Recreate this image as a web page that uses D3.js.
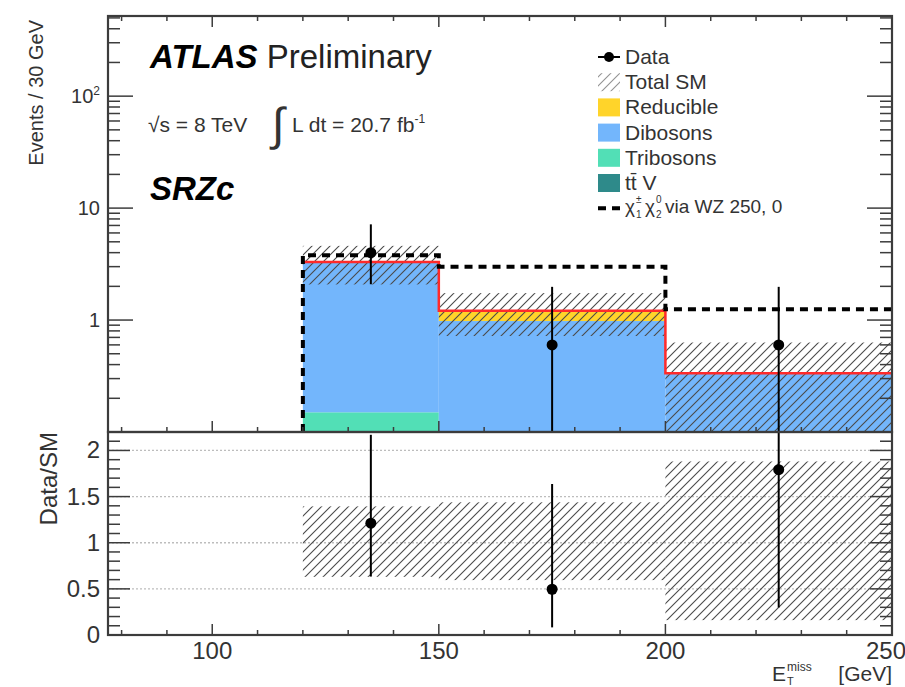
<!DOCTYPE html>
<html>
<head>
<meta charset="utf-8">
<title>SRZc MET</title>
<script src="https://cdn.jsdelivr.net/npm/d3@7"></script>
<style>
  body { margin: 0; background: #fff; }
  text { font-family: "Liberation Sans", Arial, Helvetica, sans-serif; }
</style>
</head>
<body>
<svg id="chart" width="905" height="687"></svg>
<script>
// bins in MET [GeV]
var binEdges = [[120, 150], [150, 200], [200, 250]];
var binCenters = [135, 175, 225];

// backgrounds, events / 30 GeV (stacked bottom to top)
var ttV = [0.01, 0.01, 0.005];
var tribosons = [0.14, 0.05, 0.02];
var dibosons = [3.1, 0.92, 0.31];
var reducible = [0.05, 0.23, 0.0];

// total SM uncertainty band
var bandLow = [2.08, 0.72, 0.054];
var bandHigh = [4.6, 1.74, 0.63];

// signal chi1+- chi2^0 via WZ (250, 0)
var signal = [3.8, 3.0, 1.25];

// data with poisson errors
var dataVal = [4.0, 0.6, 0.6];
var dataLow = [2.09, 0.1, 0.1];
var dataHigh = [7.16, 1.98, 1.98];

var xMajor = [100, 150, 200, 250];
var ratioMajor = [0, 0.5, 1, 1.5, 2];

var colors = { ttV: "#2e8a8a", tribosons: "#52dfb6", dibosons: "#73b6fc", reducible: "#ffd42a" };

var svg = d3.select("#chart");
var L = 108, R = 892, T = 16, M = 432, B = 635;

var x = d3.scaleLinear().domain([77, 250]).range([L, R]);
var y = d3.scaleLog().domain([0.1, 520]).range([M, T]).clamp(true);
var yr = d3.scaleLinear().domain([0, 2.2]).range([B, M]).clamp(true);

var defs = svg.append("defs");
var pat = defs.append("pattern").attr("id", "hatch")
  .attr("patternUnits", "userSpaceOnUse").attr("width", 9).attr("height", 9);
pat.append("path").attr("d", "M0,9 L9,0 M-2,2 L2,-2 M7,11 L11,7")
  .attr("stroke", "#4a4a4a").attr("stroke-width", 1.1);
defs.append("clipPath").attr("id", "clipTop").append("rect")
  .attr("x", L).attr("y", T).attr("width", R - L).attr("height", M - T);
defs.append("clipPath").attr("id", "clipBot").append("rect")
  .attr("x", L).attr("y", M).attr("width", R - L).attr("height", B - M);

// ---- upper panel ----
var gTop = svg.append("g").attr("clip-path", "url(#clipTop)");

var keys = ["ttV", "tribosons", "dibosons", "reducible"];
var table = binEdges.map(function(e, i) {
  return { i: i, ttV: ttV[i], tribosons: tribosons[i], dibosons: dibosons[i], reducible: reducible[i] };
});
var stacked = d3.stack().keys(keys)(table);
var total = table.map(function(d) { return d.ttV + d.tribosons + d.dibosons + d.reducible; });

stacked.forEach(function(layer) {
  gTop.selectAll(null).data(layer).enter().append("rect")
    .attr("x", function(d) { return x(binEdges[d.data.i][0]); })
    .attr("width", function(d) { return x(binEdges[d.data.i][1]) - x(binEdges[d.data.i][0]); })
    .attr("y", function(d) { return y(Math.max(d[1], 0.1)); })
    .attr("height", function(d) { return y(Math.max(d[0], 0.1)) - y(Math.max(d[1], 0.1)); })
    .attr("fill", colors[layer.key]);
});

// uncertainty hatch
gTop.selectAll(null).data(binEdges).enter().append("rect")
  .attr("x", function(d) { return x(d[0]); })
  .attr("width", function(d) { return x(d[1]) - x(d[0]); })
  .attr("y", function(d, i) { return y(bandHigh[i]); })
  .attr("height", function(d, i) { return y(bandLow[i]) - y(bandHigh[i]); })
  .attr("fill", "url(#hatch)");

// total SM outline (red)
function stepPath(vals, scale, closeLeft) {
  var p = [];
  binEdges.forEach(function(e, i) {
    p.push([x(e[0]), scale(vals[i])]);
    p.push([x(e[1]), scale(vals[i])]);
  });
  if (closeLeft) p.unshift([x(binEdges[0][0]), scale(0.1)]);
  return d3.line()(p);
}
gTop.append("path").attr("d", stepPath(total, y, false))
  .attr("fill", "none").attr("stroke", "#ff2a2a").attr("stroke-width", 2.5);

// signal dashed
gTop.append("path").attr("d", stepPath(signal, y, true))
  .attr("fill", "none").attr("stroke", "#000").attr("stroke-width", 4)
  .attr("stroke-dasharray", "8,6");

// data
gTop.selectAll(null).data(binCenters).enter().append("line")
  .attr("x1", function(d) { return x(d); }).attr("x2", function(d) { return x(d); })
  .attr("y1", function(d, i) { return y(dataLow[i]); })
  .attr("y2", function(d, i) { return y(dataHigh[i]); })
  .attr("stroke", "#000").attr("stroke-width", 2);
gTop.selectAll(null).data(binCenters).enter().append("circle")
  .attr("cx", function(d) { return x(d); })
  .attr("cy", function(d, i) { return y(dataVal[i]); })
  .attr("r", 5.5).attr("fill", "#000");

// ---- lower panel ----
var gBot = svg.append("g").attr("clip-path", "url(#clipBot)");
gBot.selectAll(null).data([0.5, 1, 1.5, 2]).enter().append("line")
  .attr("x1", L).attr("x2", R)
  .attr("y1", function(d) { return yr(d); }).attr("y2", function(d) { return yr(d); })
  .attr("stroke", "#bdbdbd").attr("stroke-width", 1.3).attr("stroke-dasharray", "2,2");
gBot.selectAll(null).data(binEdges).enter().append("rect")
  .attr("x", function(d) { return x(d[0]); })
  .attr("width", function(d) { return x(d[1]) - x(d[0]); })
  .attr("y", function(d, i) { return yr(bandHigh[i] / total[i]); })
  .attr("height", function(d, i) { return yr(bandLow[i] / total[i]) - yr(bandHigh[i] / total[i]); })
  .attr("fill", "url(#hatch)");
gBot.selectAll(null).data(binCenters).enter().append("line")
  .attr("x1", function(d) { return x(d); }).attr("x2", function(d) { return x(d); })
  .attr("y1", function(d, i) { return yr(dataLow[i] / total[i]); })
  .attr("y2", function(d, i) { return yr(dataHigh[i] / total[i]); })
  .attr("stroke", "#000").attr("stroke-width", 2);
gBot.selectAll(null).data(binCenters).enter().append("circle")
  .attr("cx", function(d) { return x(d); })
  .attr("cy", function(d, i) { return yr(dataVal[i] / total[i]); })
  .attr("r", 5.5).attr("fill", "#000");

// ---- axes ----
var axisColor = "#3c3c3c";
var xMinor = d3.range(80, 251, 10).filter(function(v) { return xMajor.indexOf(v) < 0; });

function xTicks(yPos, dir) {
  svg.append("g").selectAll(null).data(xMajor.concat(xMinor)).enter().append("line")
    .attr("x1", function(d) { return x(d); }).attr("x2", function(d) { return x(d); })
    .attr("y1", yPos)
    .attr("y2", function(d) { return yPos + dir * (xMajor.indexOf(d) >= 0 ? 11 : 5); })
    .attr("stroke", axisColor).attr("stroke-width", 1.5);
}
xTicks(T, 1);
xTicks(M, -1);
xTicks(B, -1);

// log y ticks
var yMajor = [1, 10, 100];
var yMinor = [];
[0.1, 1, 10, 100].forEach(function(dec) {
  for (var k = 2; k <= 9; k++) if (dec * k <= 520) yMinor.push(dec * k);
});
function yTicks(xPos, dir, majors, minors, scale, lenMaj, lenMin) {
  var g = svg.append("g");
  g.selectAll(null).data(majors).enter().append("line")
    .attr("x1", xPos).attr("x2", xPos + dir * lenMaj)
    .attr("y1", function(d) { return scale(d); }).attr("y2", function(d) { return scale(d); })
    .attr("stroke", axisColor).attr("stroke-width", 1.5);
  g.selectAll(null).data(minors).enter().append("line")
    .attr("x1", xPos).attr("x2", xPos + dir * lenMin)
    .attr("y1", function(d) { return scale(d); }).attr("y2", function(d) { return scale(d); })
    .attr("stroke", axisColor).attr("stroke-width", 1.5);
}
yTicks(L, 1, yMajor, yMinor, y, 25, 12);
yTicks(R, -1, yMajor, yMinor, y, 25, 12);
var rMinor = d3.range(0.1, 2.2, 0.1).filter(function(v) { return Math.abs(v * 2 - Math.round(v * 2)) > 0.01; });
yTicks(L, 1, ratioMajor, rMinor, yr, 22, 12);
yTicks(R, -1, ratioMajor, rMinor, yr, 22, 12);

// frames
svg.append("rect").attr("x", L).attr("y", T).attr("width", R - L).attr("height", M - T)
  .attr("fill", "none").attr("stroke", axisColor).attr("stroke-width", 2.2);
svg.append("rect").attr("x", L).attr("y", M).attr("width", R - L).attr("height", B - M)
  .attr("fill", "none").attr("stroke", axisColor).attr("stroke-width", 2.2);

// tick labels
var lab = svg.append("g").attr("fill", "#333");
lab.selectAll(null).data(xMajor).enter().append("text")
  .attr("x", function(d) { return Math.min(x(d), 886); }).attr("y", 659)
  .attr("text-anchor", "middle").attr("font-size", 24).text(function(d) { return d; });
lab.selectAll(null).data(ratioMajor).enter().append("text")
  .attr("x", 100).attr("y", function(d) { return yr(d) + 8; })
  .attr("text-anchor", "end").attr("font-size", 24).text(function(d) { return d; });
lab.append("text").attr("x", 100).attr("y", y(1) + 7).attr("text-anchor", "end")
  .attr("font-size", 20).text("1");
lab.append("text").attr("x", 100).attr("y", y(10) + 7).attr("text-anchor", "end")
  .attr("font-size", 20).text("10");
var t100 = lab.append("text").attr("x", 100).attr("y", y(100) + 7).attr("text-anchor", "end")
  .attr("font-size", 20);
t100.append("tspan").text("10");
t100.append("tspan").attr("font-size", 12).attr("dy", -8).text("2");

// axis titles
lab.append("text").attr("transform", "translate(43,20) rotate(-90)")
  .attr("text-anchor", "end").attr("font-size", 20).text("Events / 30 GeV");
lab.append("text").attr("transform", "translate(57,432) rotate(-90)")
  .attr("text-anchor", "end").attr("font-size", 24).text("Data/SM");
lab.append("text").attr("x", 772).attr("y", 681).attr("font-size", 21).text("E");
lab.append("text").attr("x", 787).attr("y", 671).attr("font-size", 12).text("miss");
lab.append("text").attr("x", 787).attr("y", 685).attr("font-size", 11).text("T");
lab.append("text").attr("x", 892).attr("y", 681).attr("text-anchor", "end")
  .attr("font-size", 21).text("[GeV]");

// ATLAS labels
var ann = svg.append("g").attr("fill", "#000");
var at = ann.append("text").attr("x", 150).attr("y", 68).attr("font-size", 33);
at.append("tspan").attr("font-weight", "bold").attr("font-style", "italic").text("ATLAS");
at.append("tspan").attr("fill", "#222").text(" Preliminary");
ann.append("text").attr("x", 150).attr("y", 200).attr("font-size", 33)
  .attr("font-weight", "bold").attr("font-style", "italic").text("SRZc");
var lumi = ann.append("g").attr("fill", "#333");
lumi.append("text").attr("x", 148).attr("y", 132).attr("font-size", 21).text("\u221As = 8 TeV");
lumi.append("text").attr("x", 272).attr("y", 140).attr("font-size", 46).text("\u222B");
var lt = lumi.append("text").attr("x", 292).attr("y", 132).attr("font-size", 21);
lt.append("tspan").text("L dt = 20.7 fb");
lt.append("tspan").attr("font-size", 12).attr("dy", -9).text("-1");

// legend
var leg = svg.append("g").attr("fill", "#333");
var ly0 = 57, ldy = 25.2, lx = 598, lw = 22, ltx = 625;
function row(i) { return ly0 + i * ldy; }
leg.append("line").attr("x1", lx).attr("x2", lx + lw).attr("y1", row(0)).attr("y2", row(0))
  .attr("stroke", "#000").attr("stroke-width", 2);
leg.append("circle").attr("cx", lx + lw / 2).attr("cy", row(0)).attr("r", 5).attr("fill", "#000");
leg.append("rect").attr("x", lx).attr("y", row(1) - 9).attr("width", lw).attr("height", 18)
  .attr("fill", "url(#hatch)").attr("opacity", 0.6);
var fills = [colors.reducible, colors.dibosons, colors.tribosons, colors.ttV];
fills.forEach(function(c, k) {
  leg.append("rect").attr("x", lx).attr("y", row(k + 2) - 9).attr("width", lw).attr("height", 18)
    .attr("fill", c);
});
leg.append("line").attr("x1", lx).attr("x2", lx + lw).attr("y1", row(6)).attr("y2", row(6))
  .attr("stroke", "#000").attr("stroke-width", 4).attr("stroke-dasharray", "8,6");

var legNames = ["Data", "Total SM", "Reducible", "Dibosons", "Tribosons"];
legNames.forEach(function(n, k) {
  leg.append("text").attr("x", ltx).attr("y", row(k) + 7).attr("font-size", 21).text(n);
});
leg.append("text").attr("x", ltx).attr("y", row(5) + 7).attr("font-size", 21).text("tt\u0304 V");
var sy = row(6) + 5;
leg.append("text").attr("x", ltx).attr("y", sy).attr("font-size", 19).text("\u03C7");
leg.append("text").attr("x", ltx + 11).attr("y", sy - 10).attr("font-size", 10).text("\u00B1");
leg.append("text").attr("x", ltx + 11).attr("y", sy + 5).attr("font-size", 10).text("1");
leg.append("text").attr("x", ltx + 20).attr("y", sy).attr("font-size", 19).text("\u03C7");
leg.append("text").attr("x", ltx + 31).attr("y", sy - 10).attr("font-size", 10).text("0");
leg.append("text").attr("x", ltx + 31).attr("y", sy + 5).attr("font-size", 10).text("2");
leg.append("text").attr("x", ltx + 40).attr("y", sy).attr("font-size", 19).text("via WZ 250, 0");
</script>
</body>
</html>
